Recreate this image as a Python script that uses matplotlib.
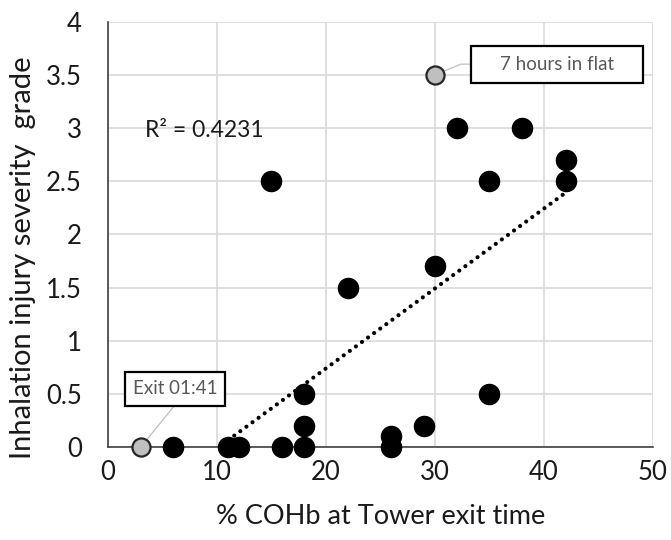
import numpy as np
import matplotlib
matplotlib.use("Agg")
import matplotlib.pyplot as plt
from matplotlib.patches import Rectangle

plt.rcParams['font.family'] = ['Lato', 'DejaVu Sans']

# black points (patients)
cohb = [6, 11, 12, 16, 18, 18, 18, 26, 26, 29, 35, 22, 30, 15, 32, 38, 35, 42, 42]
grade = [0, 0, 0, 0, 0, 0.2, 0.5, 0, 0.1, 0.2, 0.5, 1.5, 1.7, 2.5, 3, 3, 2.5, 2.7, 2.5]

# highlighted grey points
grey_x = [3, 30]
grey_y = [0, 3.5]
grey_labels = ["Exit 01:41", "7 hours in flat"]
r2_text = "R² = 0.4231"

fig = plt.figure(figsize=(6.71, 5.4), dpi=100)
ax = fig.add_axes([0.161, 0.172, 0.812, 0.788])

ax.set_xlim(0, 50)
ax.set_ylim(0, 4)
ax.set_xticks(np.arange(0, 51, 10))
ax.set_yticks(np.arange(0, 4.01, 0.5))
ax.set_yticklabels(["0", "0.5", "1", "1.5", "2", "2.5", "3", "3.5", "4"])
ax.grid(True, color="#d9d9d9", linewidth=1.2)
ax.set_axisbelow(True)
for s in ["top", "right"]:
    ax.spines[s].set_visible(False)
for s in ["left", "bottom"]:
    ax.spines[s].set_color("#404040")
    ax.spines[s].set_linewidth(1.2)
ax.tick_params(length=0, labelsize=18.5, colors="#1a1a1a")
ax.tick_params(axis="y", pad=19)
ax.tick_params(axis="x", pad=9)

# linear trendline
k, b = np.polyfit(cohb, grade, 1)
xs = np.linspace(min(cohb), max(cohb), 200)
ax.plot(xs, k * xs + b, color="black", linewidth=3.0,
        linestyle=(0, (0.01, 1.8)), dash_capstyle="round", zorder=2)

ax.scatter(cohb, grade, s=210, color="black", zorder=3, clip_on=False)
ax.scatter(grey_x, grey_y, s=170, color="#bfbfbf", edgecolor="#262626",
           linewidth=1.6, zorder=4, clip_on=False)

# callout boxes
ax.plot([grey_x[0], 6.1], [grey_y[0], 0.39], color="#bfbfbf", linewidth=0.9, zorder=3.5)
ax.add_patch(Rectangle((1.56, 0.39), 9.17, 0.32, facecolor="white",
                       edgecolor="black", linewidth=1.6, zorder=5))
ax.text(6.15, 0.55, grey_labels[0], ha="center", va="center", fontsize=13.5,
        color="#595959", zorder=6)

ax.plot([grey_x[1], 32.4, 33.3], [grey_y[1], 3.6, 3.6], color="#bfbfbf",
        linewidth=0.9, zorder=3.5)
ax.add_patch(Rectangle((33.3, 3.42), 15.8, 0.35, facecolor="white",
                       edgecolor="black", linewidth=1.6, zorder=5, clip_on=False))
ax.text(41.2, 3.595, grey_labels[1], ha="center", va="center", fontsize=13.5,
        color="#595959", zorder=6)

ax.text(3.4, 2.98, r2_text, fontsize=16.5, color="#1a1a1a", va="center")

ax.set_xlabel("% COHb at Tower exit time", fontsize=19.5, color="#1a1a1a", labelpad=14)
ax.set_ylabel("Inhalation injury severity  grade", fontsize=21, color="#1a1a1a")
ax.yaxis.set_label_coords(-0.132, 0.445)

fig.savefig("out.png", dpi=100)
